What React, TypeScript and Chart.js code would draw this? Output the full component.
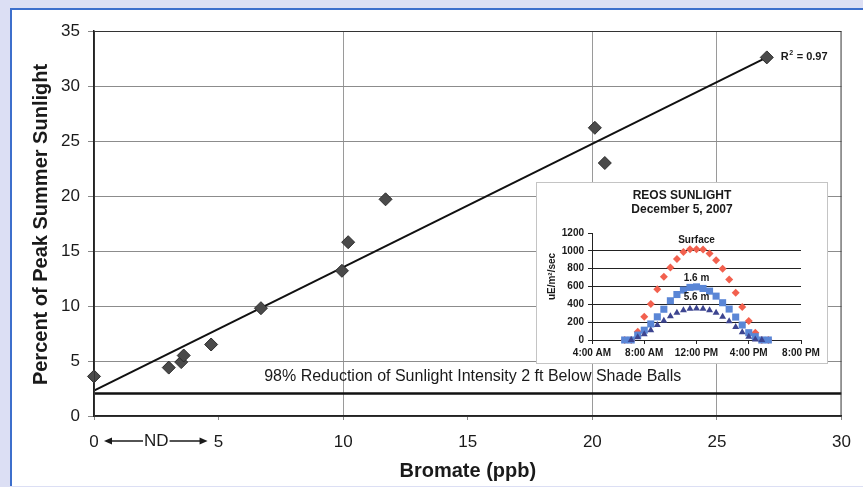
import React, { useEffect, useRef } from "react";
import { Chart, registerables } from "chart.js";

Chart.register(...registerables);

const FONT = "'Liberation Sans', Arial, Helvetica, sans-serif";

// ---- Main chart data ----
const bromatePpb = [0, 3.0, 3.5, 3.6, 4.7, 6.7, 9.95, 10.2, 11.7, 20.1, 20.5, 27.0];
const peakSunlightPct = [3.6, 4.4, 4.9, 5.5, 6.5, 9.8, 13.2, 15.8, 19.7, 26.2, 23.0, 32.6];
const trendX = [0, 27.0];
const trendY = [2.3, 32.6];
const shadeLimitX = [0, 30];
const shadeLimitY = [2.05, 2.05];
const xTickValues = [0, 5, 10, 15, 20, 25, 30];
const yTickValues = [0, 5, 10, 15, 20, 25, 30, 35];
const xGridValues = [10, 20, 25];
const rSquaredText = "0.97";
const annotationText = "98% Reduction of Sunlight Intensity 2 ft Below Shade Balls";
const xTitle = "Bromate (ppb)";
const yTitle = "Percent of Peak Summer Sunlight";

// ---- Inset chart data ----
const insetHours = [6.5, 7, 7.5, 8, 8.5, 9, 9.5, 10, 10.5, 11, 11.5, 12, 12.5, 13, 13.5, 14, 14.5, 15, 15.5, 16, 16.5, 17, 17.5];
const surfaceLight = [0, 0, 93, 261, 403, 570, 708, 812, 909, 988, 1017, 1017, 1014, 969, 894, 798, 678, 529, 369, 212, 82, 0, 0];
const light16m = [0, 0, 55, 110, 180, 260, 345, 440, 510, 560, 590, 596, 578, 548, 492, 418, 347, 257, 168, 82, 37, 0, 0];
const light56m = [null, 0, 30, 65, 110, 168, 216, 265, 306, 335, 350, 354, 350, 335, 306, 261, 209, 145, 86, 37, 7, 0, null];
const insetTimeTicks = [4, 8, 12, 16, 20];
const insetTimeLabels = ["4:00 AM", "8:00 AM", "12:00 PM", "4:00 PM", "8:00 PM"];
const insetYTicks = [0, 200, 400, 600, 800, 1000, 1200];
const insetTitle = ["REOS SUNLIGHT", "December 5, 2007"];
const insetYTitle = "uE/m²/sec";
const insetSeriesNames = ["Surface", "1.6 m", "5.6 m"];
const insetLabelAt = [1120, 695, 482];

const TEXT = "#1a1a1a";

function zip(xs: number[], ys: (number | null)[]) {
  return xs.map((x, i) => ({ x, y: ys[i] }));
}

function arrow(ctx: CanvasRenderingContext2D, x1: number, x2: number, y: number) {
  const dir = x2 > x1 ? 1 : -1;
  ctx.beginPath();
  ctx.moveTo(x1, y);
  ctx.lineTo(x2 - dir * 6, y);
  ctx.lineWidth = 1.6;
  ctx.strokeStyle = TEXT;
  ctx.stroke();
  ctx.beginPath();
  ctx.moveTo(x2, y);
  ctx.lineTo(x2 - dir * 8, y - 3.5);
  ctx.lineTo(x2 - dir * 8, y + 3.5);
  ctx.closePath();
  ctx.fillStyle = TEXT;
  ctx.fill();
}

const mainOverlay = {
  id: "mainOverlay",
  afterDraw(chart: any) {
    const { ctx, chartArea, scales } = chart;
    const xs = scales.x;
    const ys = scales.y;
    ctx.save();
    ctx.strokeStyle = "#333";
    ctx.lineWidth = 1;
    ctx.strokeRect(chartArea.left + 0.5, chartArea.top + 0.5, chartArea.right - chartArea.left - 1, chartArea.bottom - chartArea.top);

    ctx.fillStyle = TEXT;
    ctx.font = `16px ${FONT}`;
    ctx.textAlign = "center";
    ctx.textBaseline = "middle";
    ctx.fillText(annotationText, xs.getPixelForValue(15.2), ys.getPixelForValue(3.55));

    const lx = xs.getPixelForValue(trendX[1]) + 14;
    const ly = ys.getPixelForValue(trendY[1]);
    ctx.textAlign = "left";
    ctx.font = `bold 11px ${FONT}`;
    ctx.fillText("R", lx, ly);
    const rw = ctx.measureText("R").width;
    ctx.font = `bold 7px ${FONT}`;
    ctx.fillText("2", lx + rw + 0.5, ly - 4);
    const sw = ctx.measureText("2").width;
    ctx.font = `bold 11px ${FONT}`;
    ctx.fillText(" = " + rSquaredText, lx + rw + sw + 1, ly);

    const x0 = xs.getPixelForValue(0);
    const x5 = xs.getPixelForValue(5);
    const ty = 441;
    ctx.font = `17px ${FONT}`;
    ctx.textAlign = "center";
    const mid = (x0 + x5) / 2;
    ctx.fillText("ND", mid, ty);
    const ndw = ctx.measureText("ND").width;
    arrow(ctx, mid - ndw / 2 - 1, x0 + 10, ty);
    arrow(ctx, mid + ndw / 2 + 1, x5 - 11, ty);

    ctx.font = `bold 20px ${FONT}`;
    ctx.textAlign = "center";
    ctx.textBaseline = "middle";
    ctx.fillText(xTitle, (chartArea.left + chartArea.right) / 2, 471);
    ctx.translate(41, (chartArea.top + chartArea.bottom) / 2 + 1);
    ctx.rotate(-Math.PI / 2);
    ctx.fillText(yTitle, 0, 0);
    ctx.restore();
  },
};

const insetOverlay = {
  id: "insetOverlay",
  afterDraw(chart: any) {
    const { ctx, scales, width } = chart;
    const xs = scales.x;
    const ys = scales.y;
    ctx.save();
    ctx.fillStyle = TEXT;
    ctx.textAlign = "center";
    ctx.textBaseline = "middle";
    ctx.font = `bold 12px ${FONT}`;
    ctx.fillText(insetTitle[0], width / 2, 13);
    ctx.fillText(insetTitle[1], width / 2, 27);
    ctx.font = `bold 10px ${FONT}`;
    const cx = xs.getPixelForValue(12);
    insetSeriesNames.forEach((n, i) => {
      ctx.fillText(n, cx, ys.getPixelForValue(insetLabelAt[i]));
    });
    ctx.translate(15, (ys.top + ys.bottom) / 2 - 10);
    ctx.rotate(-Math.PI / 2);
    ctx.font = `bold 10px ${FONT}`;
    ctx.fillText(insetYTitle, 0, 0);
    ctx.restore();
  },
};

function MainChart() {
  const ref = useRef<HTMLCanvasElement>(null);
  useEffect(() => {
    const chart = new Chart(ref.current as HTMLCanvasElement, {
      type: "scatter",
      data: {
        datasets: [
          {
            type: "scatter",
            data: zip(bromatePpb, peakSunlightPct),
            pointStyle: "rectRot",
            pointRadius: 6.5,
            backgroundColor: "#4a4a4a",
            borderColor: "#2c2c2c",
            borderWidth: 1,
            clip: false,
          } as any,
          {
            type: "line",
            data: zip(trendX, trendY),
            borderColor: "#111",
            borderWidth: 2,
            pointRadius: 0,
            fill: false,
          } as any,
          {
            type: "line",
            data: zip(shadeLimitX, shadeLimitY),
            borderColor: "#111",
            borderWidth: 2.5,
            pointRadius: 0,
            fill: false,
          } as any,
        ],
      },
      options: {
        responsive: false,
        animation: false,
        layout: { padding: { left: 12, right: 21, top: 31, bottom: 5 } },
        plugins: {
          legend: { display: false },
          tooltip: { enabled: false },
          title: { display: false },
        },
        scales: {
          x: {
            type: "linear",
            min: 0,
            max: 30,
            afterBuildTicks: (s: any) => {
              s.ticks = xTickValues.map((v) => ({ value: v }));
            },
            afterFit: (s: any) => {
              s.height = 66;
            },
            grid: {
              color: (c: any) => (c.tick && xGridValues.includes(c.tick.value) ? "#9a9a9a" : "rgba(0,0,0,0)"),
              tickColor: "#888",
              tickLength: 4,
              lineWidth: 1,
            },
            border: { color: "#222", width: 1.5 },
            ticks: {
              font: { family: FONT, size: 17 },
              color: TEXT,
              padding: 12,
              maxRotation: 0,
              autoSkip: false,
            },
          },
          y: {
            type: "linear",
            min: 0,
            max: 35,
            afterBuildTicks: (s: any) => {
              s.ticks = yTickValues.map((v) => ({ value: v }));
            },
            afterFit: (s: any) => {
              s.width = 82;
            },
            grid: { color: "#8c8c8c", tickColor: "#888", tickLength: 6, lineWidth: 1 },
            border: { color: "#222", width: 1.5 },
            ticks: { font: { family: FONT, size: 17 }, color: TEXT, padding: 8 },
          },
        },
      } as any,
      plugins: [mainOverlay],
    });
    return () => chart.destroy();
  }, []);
  return <canvas ref={ref} width={863} height={487} style={{ position: "absolute", left: 0, top: 0, width: 863, height: 487 }} />;
}

function InsetChart() {
  const ref = useRef<HTMLCanvasElement>(null);
  useEffect(() => {
    const chart = new Chart(ref.current as HTMLCanvasElement, {
      type: "scatter",
      data: {
        datasets: [
          {
            data: zip(insetHours, light56m),
            pointStyle: "triangle",
            pointRadius: 4,
            backgroundColor: "#3d4590",
            borderColor: "#3d4590",
            borderWidth: 0,
            clip: false,
          } as any,
          {
            data: zip(insetHours, light16m),
            pointStyle: "rect",
            pointRadius: 5,
            backgroundColor: "#5a86d6",
            borderColor: "#5a86d6",
            borderWidth: 0,
            clip: false,
          } as any,
          {
            data: zip(insetHours, surfaceLight),
            pointStyle: "rectRot",
            pointRadius: 4,
            backgroundColor: "#f2604e",
            borderColor: "#f2604e",
            borderWidth: 0,
            clip: false,
          } as any,
        ],
      },
      options: {
        responsive: false,
        animation: false,
        layout: { padding: { left: 0, right: 26, top: 50, bottom: 0 } },
        plugins: {
          legend: { display: false },
          tooltip: { enabled: false },
          title: { display: false },
        },
        scales: {
          x: {
            type: "linear",
            min: 4,
            max: 20,
            afterBuildTicks: (s: any) => {
              s.ticks = insetTimeTicks.map((v) => ({ value: v }));
            },
            afterFit: (s: any) => {
              s.height = 23;
            },
            grid: { drawOnChartArea: false, drawTicks: true, tickLength: 4, tickColor: "#222" },
            border: { color: "#222", width: 1 },
            ticks: {
              font: { family: FONT, size: 10, weight: "bold" },
              color: TEXT,
              padding: 3,
              maxRotation: 0,
              autoSkip: false,
              callback: (v: any) => insetTimeLabels[insetTimeTicks.indexOf(Number(v))],
            },
          },
          y: {
            type: "linear",
            min: 0,
            max: 1200,
            afterBuildTicks: (s: any) => {
              s.ticks = insetYTicks.map((v) => ({ value: v }));
            },
            afterFit: (s: any) => {
              s.width = 55;
            },
            grid: {
              color: (c: any) => (c.tick && (c.tick.value === 1200 || c.tick.value === 0) ? "rgba(0,0,0,0)" : "#222"),
              tickColor: "#222",
              tickLength: 4,
              lineWidth: 1,
            },
            border: { color: "#222", width: 1 },
            ticks: {
              font: { family: FONT, size: 10, weight: "bold" },
              color: TEXT,
              padding: 4,
              callback: (v: any) => String(v),
            },
          },
        },
      } as any,
      plugins: [insetOverlay],
    });
    return () => chart.destroy();
  }, []);
  return <canvas ref={ref} width={290} height={180} style={{ display: "block", width: 290, height: 180 }} />;
}

export default function App() {
  return (
    <div style={{ position: "fixed", left: 0, top: 0, width: 863, height: 487, background: "#dcdff4", overflow: "hidden" }}>
      <div
        style={{
          position: "absolute",
          left: 10,
          top: 8,
          width: 853,
          height: 476,
          background: "#ffffff",
          borderLeft: "2px solid #3d6fcc",
          borderTop: "2px solid #3d6fcc",
        }}
      />
      <MainChart />
      <div
        style={{
          position: "absolute",
          left: 536,
          top: 182,
          width: 290,
          height: 180,
          border: "1px solid #c4c4c4",
          background: "#ffffff",
        }}
      >
        <InsetChart />
      </div>
    </div>
  );
}
